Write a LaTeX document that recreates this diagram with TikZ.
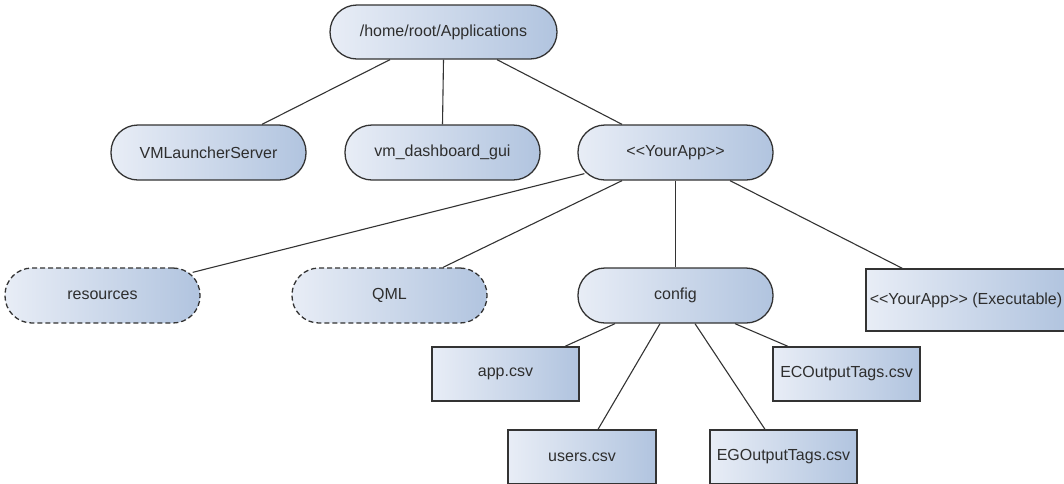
\documentclass[tikz,border=0pt]{standalone}
\usepackage{fontspec}
\setmainfont{Liberation Sans}
\usepackage{tikz}
\usetikzlibrary{calc}

\definecolor{boxLight}{HTML}{E8EDF6}
\definecolor{boxDark}{HTML}{B1C4DF}
\definecolor{edgeGrey}{HTML}{333333}
\definecolor{textGrey}{HTML}{2E2E2E}

% << and >> kept apart so the font mapping leaves them alone
\newcommand{\dblopen}{<\kern0pt<}
\newcommand{\dblclose}{>\kern0pt>}

\tikzset{
	dirbox/.style={rectangle, rounded corners=27pt, draw=edgeGrey, line width=1.3pt,
		left color=boxLight, right color=boxDark, text=textGrey,
		minimum width=195pt, minimum height=55pt, inner sep=0pt,
		font=\fontsize{16}{19}\selectfont},
	ghostbox/.style={dirbox, dash pattern=on 5pt off 3pt},
	filebox/.style={dirbox, rounded corners=0pt, minimum width=147pt, minimum height=54pt},
	link/.style={draw=edgeGrey, line width=1.1pt}
}

\begin{document}
\begin{tikzpicture}[x=1pt, y=-1pt]
	\useasboundingbox (0,0) rectangle (1064,483);

	\def\topRow{152.5};
	\def\midRow{295.5};
	\def\csvRow{374};
	\def\lowRow{457};

	% folders
	\node[dirbox, minimum width=227pt, minimum height=54pt] (root) at (443.5,32) {/home/root/Applications};
	\node[dirbox] (launcher) at (208.5,\topRow) {VMLauncherServer};
	\node[dirbox] (dashboard) at (442.5,\topRow) {vm\_dashboard\_gui};
	\node[dirbox] (yourapp) at (675.5,\topRow) {\dblopen YourApp\dblclose};

	\node[ghostbox] (resources) at (102.5,\midRow) {resources};
	\node[ghostbox] (qml) at (389.5,\midRow) {QML};
	\node[dirbox] (config) at (675.5,\midRow) {config};
	\node[filebox, minimum width=200pt, minimum height=62pt] (exe) at (966,300) {\dblopen YourApp\dblclose{} (Executable)};

	% files
	\node[filebox] (appcsv) at (505.5,\csvRow) {app.csv};
	\node[filebox] (eccsv) at (846.5,\csvRow) {ECOutputTags.csv};
	\node[filebox, minimum width=148pt] (userscsv) at (582,\lowRow) {users.csv};
	\node[filebox] (egcsv) at (783.5,\lowRow) {EGOutputTags.csv};

	\begin{scope}[link]
		\draw ([xshift=-53.5pt]root.south) -- ([xshift=53.5pt]launcher.north);
		\draw (root.south) -- (dashboard.north);
		\draw ([xshift=53.5pt]root.south) -- ([xshift=-53.5pt]yourapp.north);
	\end{scope}

	\begin{scope}[link]
		\draw ([xshift=7pt,yshift=7pt]yourapp.south west) -- ([xshift=-8pt,yshift=-5pt]resources.north east);
		\draw ([xshift=-53.5pt]yourapp.south) -- ([xshift=53.5pt]qml.north);
		\draw (yourapp.south) -- (config.north);
		\draw ([xshift=54.5pt]yourapp.south) -- ([xshift=37pt]exe.north west);
	\end{scope}

	\begin{scope}[link]
		\draw ([xshift=-60.5pt]config.south) -- ([xshift=59.5pt]appcsv.north);
		\draw ([xshift=-15.5pt]config.south) -- ([xshift=16pt]userscsv.north);
		\draw ([xshift=19.5pt]config.south) -- ([xshift=-18.5pt]egcsv.north);
		\draw ([xshift=59.5pt]config.south) -- ([xshift=-58.5pt]eccsv.north);
	\end{scope}
\end{tikzpicture}
\end{document}
